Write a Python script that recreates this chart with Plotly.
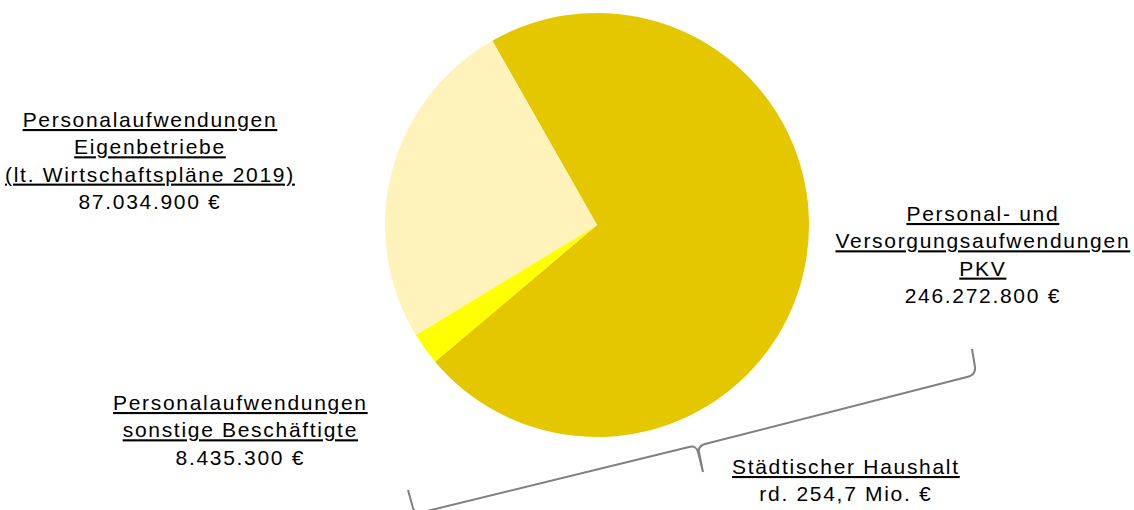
import plotly.graph_objects as go

W, H = 1134, 510

# Personnel expenditure 2019 (EUR)
categories = [
    "Personal- und Versorgungsaufwendungen PKV",
    "Personalaufwendungen sonstige Beschäftigte",
    "Personalaufwendungen Eigenbetriebe (lt. Wirtschaftspläne 2019)",
]
values = [246272800, 8435300, 87034900]
colors = ["#E5C700", "#FFFF00", "#FFF2BA"]

label_titles = [
    "Personal- und<br>Versorgungsaufwendungen<br>PKV",
    "Personalaufwendungen<br>sonstige Beschäftigte",
    "Personalaufwendungen<br>Eigenbetriebe<br>(lt. Wirtschaftspläne 2019)",
]
label_values = ["246.272.800 €", "8.435.300 €", "87.034.900 €"]

group_title = "Städtischer Haushalt"
group_value = "rd. 254,7 Mio. €"


def px(x, y):
    """Pixel position -> paper coordinates (margins are zero)."""
    return x / W, 1 - y / H


def underlined(block):
    return "<br>".join(f"<u>{line}</u>" for line in block.split("<br>"))


fig = go.Figure()

x0, y_top = px(597 - 212, 13)
x1, y_bot = px(597 + 212, 437)
fig.add_trace(go.Pie(
    labels=categories,
    values=values,
    marker=dict(colors=colors, line=dict(width=0)),
    sort=False,
    direction="clockwise",
    rotation=-29.6,
    textinfo="none",
    hoverinfo="label+value",
    showlegend=False,
    domain=dict(x=[x0, x1], y=[y_bot, y_top]),
))

font = dict(family="Liberation Sans, Arial, sans-serif", size=21, color="#000000")

# Label blocks: (centre x, centre y) in pixels
label_pos = [(983, 254), (240, 430), (150, 160)]
for title, val, (cx, cy) in zip(label_titles, label_values, label_pos):
    ax_, ay_ = px(cx, cy)
    fig.add_annotation(
        x=ax_, y=ay_, xref="paper", yref="paper",
        xanchor="center", yanchor="middle",
        text=underlined(title) + "<br>" + val,
        showarrow=False, align="center", font=font,
    )

gx, gy = px(846, 480)
fig.add_annotation(
    x=gx, y=gy, xref="paper", yref="paper",
    xanchor="center", yanchor="middle",
    text=underlined(group_title) + "<br>" + group_value,
    showarrow=False, align="center", font=font,
)


# Curly brace grouping the municipal budget items
def path(cmds):
    out = []
    for c in cmds:
        op, pts = c[0], c[1:]
        coords = " ".join(f"{px(*p)[0]:.5f},{px(*p)[1]:.5f}" for p in pts)
        out.append(f"{op} {coords}")
    return " ".join(out)


brace = path([
    ("M", (408, 490)),
    ("L", (413, 508)),
    ("Q", (415, 514), (423, 512)),
    ("L", (689, 447)),
    ("Q", (696, 445), (698, 452)),
    ("L", (703, 472)),
    ("L", (699, 452)),
    ("Q", (698, 446), (705, 444)),
    ("L", (967, 377)),
    ("Q", (976, 375), (975, 367)),
    ("L", (972, 349)),
])
fig.add_shape(type="path", path=brace, xref="paper", yref="paper",
              line=dict(color="#808080", width=2))

fig.update_layout(
    width=W, height=H,
    margin=dict(l=0, r=0, t=0, b=0),
    paper_bgcolor="#FFFFFF",
    plot_bgcolor="#FFFFFF",
)

spacing_js = (
    "document.querySelectorAll('.annotation-text').forEach(function(t){"
    "t.style.letterSpacing='1.7px';});"
)
fig.write_html("out.html", config={"displayModeBar": False}, post_script=spacing_js)
